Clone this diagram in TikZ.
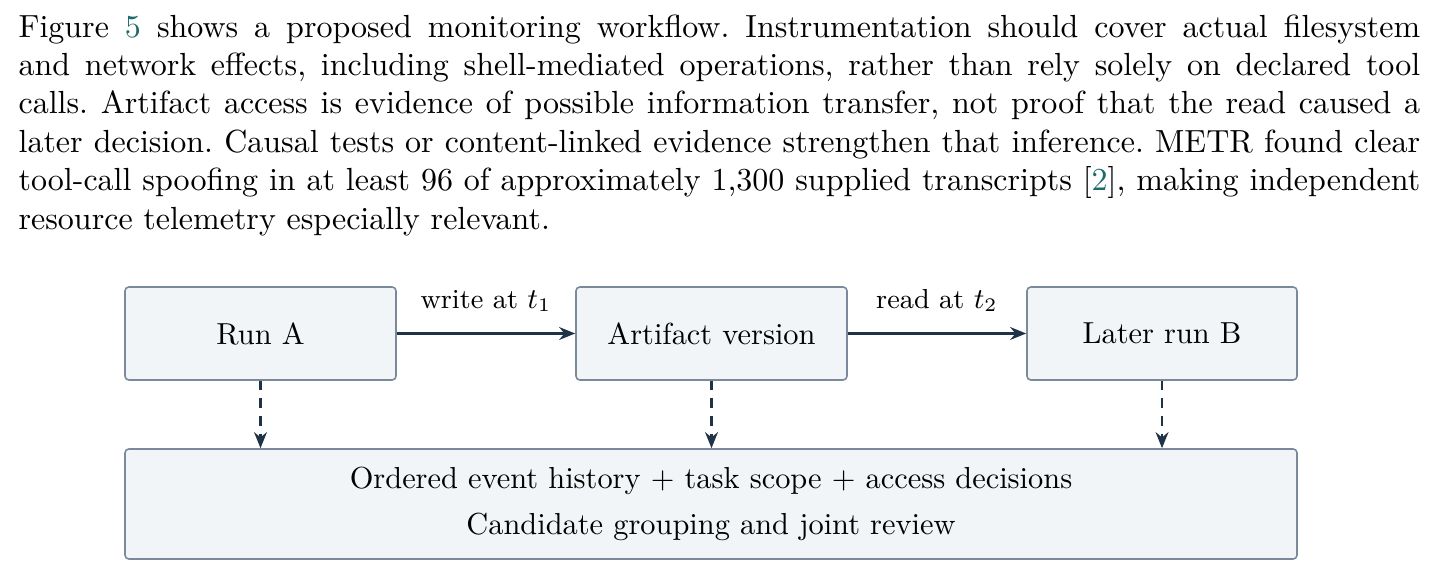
\documentclass[tikz,border=0pt]{standalone}
\usetikzlibrary{arrows.meta}
\definecolor{boxfill}{HTML}{F2F5F7}
\definecolor{boxdraw}{HTML}{7A8A9A}
\definecolor{arr}{HTML}{1F3347}
\definecolor{linkc}{HTML}{1E6B6B}
\begin{document}
\begin{tikzpicture}[x=0.3125pt,y=-0.3125pt,
  box/.style={draw=boxdraw,fill=boxfill,rounded corners=1.2pt,line width=0.5pt,inner sep=0pt,font=\fontsize{9.5}{11.5}\selectfont},
  flow/.style={draw=arr,line width=0.8pt,-{Stealth[length=5pt,width=4pt]}},
  dflow/.style={flow,dash pattern=on 3pt off 2.5pt},
  lab/.style={font=\fontsize{8.6}{10}\selectfont,above}]
\useasboundingbox (0,0) rectangle (1436,580);
\node[anchor=north west,text width=438pt,align=justify,inner sep=0pt,font=\frenchspacing] (para) at (18,14)
 {Figure \textcolor{linkc}{5} shows a proposed monitoring workflow. Instrumentation should cover actual filesystem\linebreak
 and network effects, including shell-mediated operations, rather than rely solely on declared tool\linebreak
 calls. Artifact access is evidence of possible information transfer, not proof that the read caused a\linebreak
 later decision. Causal tests or content-linked evidence strengthen that inference. METR found clear\linebreak
 tool-call spoofing in at least 96 of approximately 1,300 supplied transcripts [\textcolor{linkc}{2}], making independent\linebreak
 resource telemetry especially relevant.\par};
\node[box,minimum width=271*0.3125pt,minimum height=93*0.3125pt] (a) at (260.5,333.5) {Run A};
\node[box,minimum width=271*0.3125pt,minimum height=93*0.3125pt] (v) at (711.5,333.5) {Artifact version};
\node[box,minimum width=270*0.3125pt,minimum height=93*0.3125pt] (b) at (1162,333.5) {Later run B};
\node[box,minimum width=1172*0.3125pt,minimum height=110*0.3125pt,align=center] (h) at (711,504)
 {Ordered event history + task scope + access decisions\\[3pt] Candidate grouping and joint review};
\draw[flow] (a) -- node[lab,yshift=3pt]{write at $t_1$} (v);
\draw[flow] (v) -- node[lab,yshift=3pt]{read at $t_2$} (b);
\draw[dflow] (a.south) -- (a.south |- h.north);
\draw[dflow] (v.south) -- (v.south |- h.north);
\draw[dflow] (b.south) -- (b.south |- h.north);
\end{tikzpicture}
\end{document}
